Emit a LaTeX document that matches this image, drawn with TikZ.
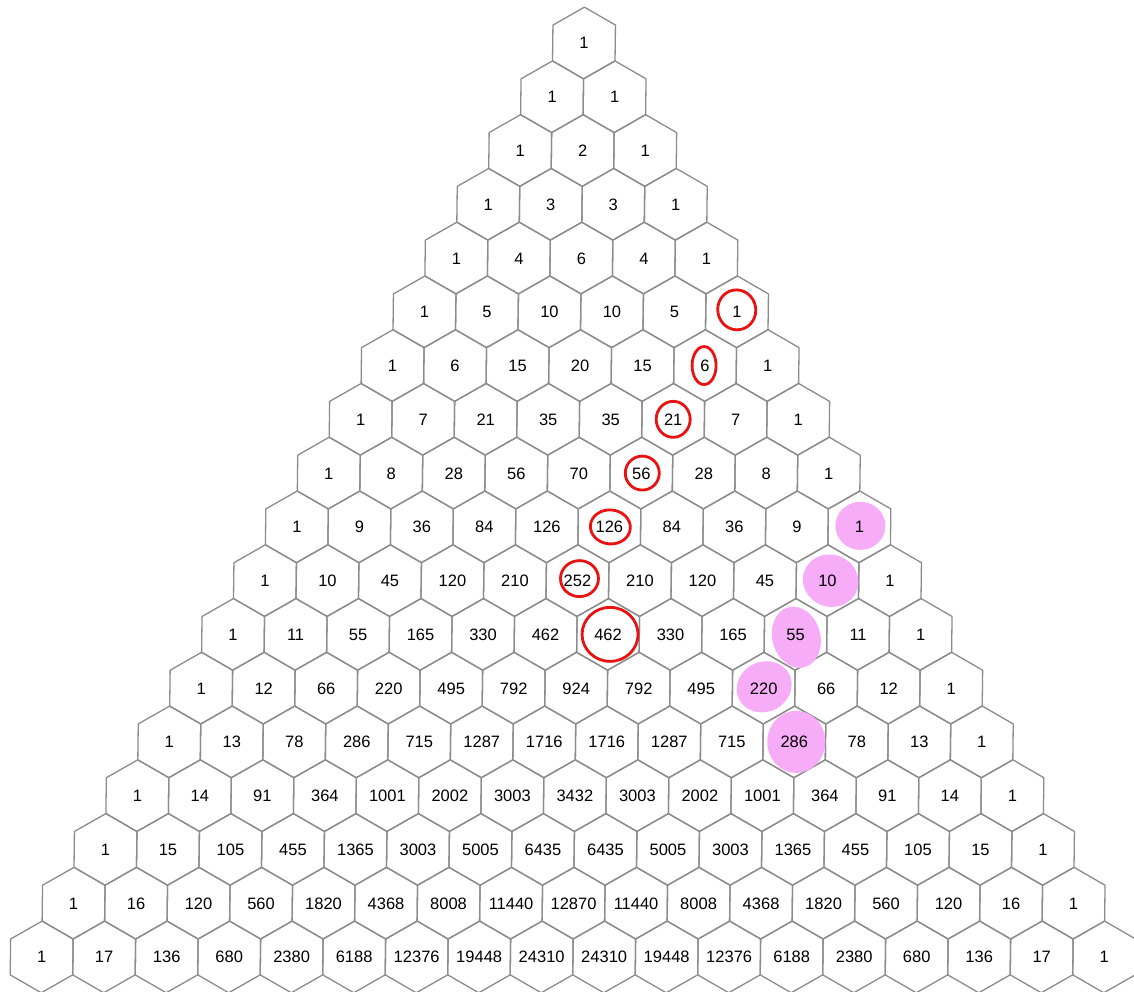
\documentclass[tikz,border=0pt]{standalone}
\usepackage{fontspec}
\setmainfont{Liberation Sans}
\pgfdeclarelayer{back}
\pgfdeclarelayer{bg}
\pgfsetlayers{back,bg,main}
\definecolor{hexgray}{RGB}{140,140,140}
\definecolor{inkred}{RGB}{232,18,18}
\definecolor{pinkhl}{RGB}{246,172,246}
\tikzset{
  hexcell/.style={draw=hexgray, line width=1.3pt, line join=round},
  num/.style={font=\fontsize{16.5}{19}\selectfont, text=black, inner sep=0pt,
    text height=12pt, text depth=0pt},
  redring/.style={draw=inkred, line width=2.8pt},
  pinkblob/.style={fill=pinkhl},
}
\begin{document}
\begin{tikzpicture}[x=1pt,y=1pt]
\begin{pgfonlayer}{back}
\fill[white] (0,0) rectangle (1134,-992);
\end{pgfonlayer}
\useasboundingbox (0,0) rectangle (1134,-992);
\begin{scope}[xslant=0.0121]
\foreach \row [count=\r from 0] in {
 {1},
 {1,1},
 {1,2,1},
 {1,3,3,1},
 {1,4,6,4,1},
 {1,5,10,10,5,1},
 {1,6,15,20,15,6,1},
 {1,7,21,35,35,21,7,1},
 {1,8,28,56,70,56,28,8,1},
 {1,9,36,84,126,126,84,36,9,1},
 {1,10,45,120,210,252,210,120,45,10,1},
 {1,11,55,165,330,462,462,330,165,55,11,1},
 {1,12,66,220,495,792,924,792,495,220,66,12,1},
 {1,13,78,286,715,1287,1716,1716,1287,715,286,78,13,1},
 {1,14,91,364,1001,2002,3003,3432,3003,2002,1001,364,91,14,1},
 {1,15,105,455,1365,3003,5005,6435,6435,5005,3003,1365,455,105,15,1},
 {1,16,120,560,1820,4368,8008,11440,12870,11440,8008,4368,1820,560,120,16,1},
 {1,17,136,680,2380,6188,12376,19448,24310,24310,19448,12376,6188,2380,680,136,17,1}}{
  \foreach \v [count=\k from 0] in \row {
    \pgfmathsetmacro\cx{584.5+(\k-\r/2)*62.5}
    \pgfmathsetmacro\cy{-43-\r*53.76}
    \begin{pgfonlayer}{bg}
      \draw[hexcell] (\cx,\cy) +(0,35.84) -- +(31.25,17.92) -- +(31.25,-17.92)
        -- +(0,-35.84) -- +(-31.25,-17.92) -- +(-31.25,17.92) -- cycle;
    \end{pgfonlayer}
    \node[num] (n-\r-\k) at (\cx,\cy) {\v};
  }
}
\end{scope}
% pink highlights
\begin{pgfonlayer}{bg}
\fill[pinkblob] ([shift={(1,1)}]n-9-9) ellipse [x radius=25, y radius=24];
\fill[pinkblob, rotate around={-20:([shift={(3,1)}]n-10-9)}] ([shift={(3,1)}]n-10-9) ellipse [x radius=28, y radius=26];
\fill[pinkblob, rotate around={15:([shift={(0,-3)}]n-11-9)}] ([shift={(0,-3)}]n-11-9) ellipse [x radius=24, y radius=31];
\fill[pinkblob, rotate around={25:([shift={(1,1)}]n-12-9)}] ([shift={(1,1)}]n-12-9) ellipse [x radius=28, y radius=25];
\fill[pinkblob] ([shift={(2,0)}]n-13-10) ellipse [x radius=29, y radius=31];
\end{pgfonlayer}
% red rings
\draw[redring, rotate around={10:(n-5-5)}] ([shift={(0,2)}]n-5-5) ellipse [x radius=19, y radius=20];
\draw[redring] ([shift={(-1,0)}]n-6-5) ellipse [x radius=12, y radius=19];
\draw[redring] ([shift={(0,0)}]n-7-5) ellipse [x radius=17, y radius=18];
\draw[redring] ([shift={(1,0)}]n-8-5) ellipse [x radius=17, y radius=17];
\draw[redring, rotate around={-5:(n-9-5)}] ([shift={(1,0)}]n-9-5) ellipse [x radius=20, y radius=17];
\draw[redring] ([shift={(2,2)}]n-10-5) ellipse [x radius=19, y radius=18];
\draw[redring] ([shift={(2,0)}]n-11-6) ellipse [x radius=28, y radius=27];
\end{tikzpicture}
\end{document}
